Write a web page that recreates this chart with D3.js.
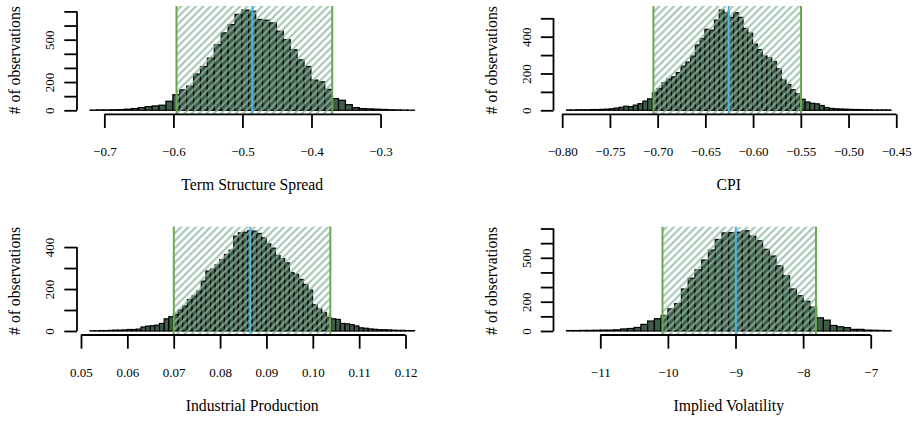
<!DOCTYPE html>
<html>
<head>
<meta charset="utf-8">
<script src="https://cdn.jsdelivr.net/npm/d3@7"></script>
<style>
  body { margin: 0; background: #fff; }
  svg { display: block; }
  text { font-family: "Liberation Serif", "Times New Roman", serif; fill: #000; }
</style>
</head>
<body>
<svg id="chart" width="914" height="421"></svg>
<script>
// ---- Posterior draws, binned: first bin edge, bin width and counts per bin ----
const titles = ["Term Structure Spread", "CPI", "Industrial Production", "Implied Volatility"];

const binStarts = [-0.7208, -0.7955, 0.05194, -11.5];
const binWidths = [0.01, 0.005, 0.001, 0.1];

const termSpreadCounts = [2, 3, 3, 4, 5, 8, 12, 19, 26, 31, 36, 64, 110, 145, 171, 257, 310, 369, 464, 548,
  607, 679, 710, 702, 643, 638, 619, 560, 500, 429, 357, 310, 214, 202, 148, 83, 71, 40, 19, 12,
  10, 8, 6, 4, 3, 2, 1];
const cpiCounts = [2, 2, 3, 3, 3, 4, 4, 5, 6, 8, 12, 16, 22, 20, 28, 36, 50, 62, 95, 118,
  150, 170, 182, 205, 240, 262, 295, 355, 390, 440, 435, 490, 545, 530, 505, 530, 505, 445, 420, 360,
  330, 295, 285, 265, 225, 165, 140, 112, 90, 60, 45, 38, 35, 26, 15, 10, 8, 7, 6, 5,
  4, 4, 3, 3, 2, 2, 2, 2];
const industrialCounts = [1, 1, 2, 2, 3, 4, 4, 5, 7, 7, 9, 19, 23, 25, 28, 36, 58, 68, 79, 100,
  119, 150, 167, 190, 238, 286, 295, 315, 340, 365, 385, 452, 468, 471, 478, 476, 465, 444, 415, 395,
  360, 345, 325, 278, 270, 246, 222, 195, 125, 105, 88, 65, 58, 55, 36, 34, 30, 24, 15, 13,
  10, 8, 6, 6, 5, 4, 3, 3, 2, 2];
const volatilityCounts = [3, 3, 4, 4, 5, 6, 6, 8, 14, 17, 24, 45, 68, 84, 106, 151, 187, 287, 361, 418,
  485, 553, 625, 670, 672, 675, 685, 648, 616, 558, 512, 445, 377, 287, 241, 203, 163, 90, 74, 38,
  29, 23, 11, 11, 6, 5, 4, 3];

// 95% interval bounds and median of each posterior
const intervalLow = [-0.5955, -0.7044, 0.07002, -10.08];
const intervalHigh = [-0.370, -0.5498, 0.10378, -7.81];
const medians = [-0.4856, -0.6255, 0.0865, -8.995];

// Axis ticks and the tick labels that are printed
const xTicks = [
  [-0.7, -0.6, -0.5, -0.4, -0.3],
  [-0.80, -0.75, -0.70, -0.65, -0.60, -0.55, -0.50, -0.45],
  [0.05, 0.06, 0.07, 0.08, 0.09, 0.10, 0.11, 0.12],
  [-11, -10, -9, -8, -7]
];
const xTickLabels = [
  ["\u22120.7", "\u22120.6", "\u22120.5", "\u22120.4", "\u22120.3"],
  ["\u22120.80", "\u22120.75", "\u22120.70", "\u22120.65", "\u22120.60", "\u22120.55", "\u22120.50", "\u22120.45"],
  ["0.05", "0.06", "0.07", "0.08", "0.09", "0.10", "0.11", "0.12"],
  ["\u221211", "\u221210", "\u22129", "\u22128", "\u22127"]
];
const yTicks = [
  [0, 100, 200, 300, 400, 500, 600, 700],
  [0, 100, 200, 300, 400, 500],
  [0, 100, 200, 300, 400],
  [0, 100, 200, 300, 400, 500, 600, 700]
];
const yTickLabels = [
  ["0", "", "200", "", "", "500", "", ""],
  ["0", "", "200", "", "400", ""],
  ["0", "", "200", "", "400"],
  ["0", "", "200", "", "", "500", "", ""]
];

const allCounts = [termSpreadCounts, cpiCounts, industrialCounts, volatilityCounts];

// ---- Layout ----
const colLeft = [77, 553.5];
const rowTop = [6, 226.7];
const plotW = 350.5, plotH = 108.3;

const barFill = "#3e5c47";
const hatchColor = "rgba(142,182,162,0.78)";
const ciColor = "#6aa84f";
const medianColor = "#4cb5e8";

const svg = d3.select("#chart");

// diagonal hatching used for the interval band
svg.append("defs").append("pattern")
  .attr("id", "hatch")
  .attr("patternUnits", "userSpaceOnUse")
  .attr("width", 5.2).attr("height", 10)
  .attr("patternTransform", "rotate(45)")
  .append("line")
  .attr("x1", 2.6).attr("y1", 0).attr("x2", 2.6).attr("y2", 10)
  .attr("stroke", hatchColor).attr("stroke-width", 2.2);

allCounts.forEach((counts, k) => {
  const col = k % 2, row = Math.floor(k / 2);
  const L = colLeft[col], R = L + plotW, T = rowTop[row], B = T + plotH;
  const lo = binStarts[k], w = binWidths[k];
  const hi = lo + w * counts.length, span = hi - lo;
  const M = d3.max(counts);

  const x = d3.scaleLinear().domain([lo - 0.04 * span, hi + 0.04 * span]).range([L, R]);
  const y = d3.scaleLinear().domain([-0.04 * M, 1.04 * M]).range([B, T]);

  const g = svg.append("g");

  // histogram bars
  g.append("g").selectAll("rect").data(counts).join("rect")
    .attr("x", (d, i) => x(lo + i * w))
    .attr("width", (d, i) => x(lo + (i + 1) * w) - x(lo + i * w))
    .attr("y", d => y(d))
    .attr("height", d => y(0) - y(d))
    .attr("fill", barFill)
    .attr("stroke", "#000")
    .attr("stroke-width", 1.2);

  // hatched 95% interval band
  g.append("rect")
    .attr("x", x(intervalLow[k]))
    .attr("width", x(intervalHigh[k]) - x(intervalLow[k]))
    .attr("y", T).attr("height", B - T)
    .attr("fill", "url(#hatch)");

  // interval bounds and median
  g.selectAll("line.ci").data([intervalLow[k], intervalHigh[k]]).join("line")
    .attr("class", "ci")
    .attr("x1", d => x(d)).attr("x2", d => x(d))
    .attr("y1", T).attr("y2", B)
    .attr("stroke", ciColor).attr("stroke-width", 2);
  g.append("line")
    .attr("x1", x(medians[k])).attr("x2", x(medians[k]))
    .attr("y1", T).attr("y2", B)
    .attr("stroke", medianColor).attr("stroke-width", 2);

  // x axis
  const xt = xTicks[k];
  const xa = g.append("g").attr("transform", `translate(0,${B})`)
    .call(d3.axisBottom(x).tickValues(xt).tickSize(13.7)
      .tickFormat((d, i) => xTickLabels[k][i]));
  xa.select(".domain").remove();
  xa.append("line")
    .attr("x1", x(xt[0])).attr("x2", x(xt[xt.length - 1]))
    .attr("y1", 0).attr("y2", 0)
    .attr("stroke", "#000").attr("stroke-width", 1.8);
  xa.selectAll(".tick line").attr("stroke-width", 1.8);
  xa.selectAll(".tick text")
    .attr("y", 42).attr("dy", 0)
    .style("font-size", "13px")
    .style("font-family", "'Liberation Serif', 'Times New Roman', serif");

  // y axis
  const yt = yTicks[k];
  const ya = g.append("g").attr("transform", `translate(${L},0)`)
    .call(d3.axisLeft(y).tickValues(yt).tickSize(12.7)
      .tickFormat((d, i) => yTickLabels[k][i]));
  ya.select(".domain").remove();
  ya.append("line")
    .attr("x1", 0).attr("x2", 0)
    .attr("y1", y(yt[0])).attr("y2", y(yt[yt.length - 1]))
    .attr("stroke", "#000").attr("stroke-width", 1.8);
  ya.selectAll(".tick line").attr("stroke-width", 1.8);
  ya.selectAll(".tick text")
    .attr("x", 0).attr("y", 0).attr("dy", 0)
    .attr("transform", "translate(-22.7,0) rotate(-90)")
    .attr("text-anchor", "middle")
    .style("font-size", "13px")
    .style("font-family", "'Liberation Serif', 'Times New Roman', serif");

  // axis titles
  g.append("text")
    .attr("x", (L + R) / 2).attr("y", B + 75.5)
    .attr("text-anchor", "middle")
    .style("font-size", "15.7px")
    .text(titles[k]);
  g.append("text")
    .attr("transform", `translate(${L - 57},${(T + B) / 2}) rotate(-90)`)
    .attr("text-anchor", "middle")
    .style("font-size", "15.7px")
    .text("# of observations");
});
</script>
</body>
</html>
